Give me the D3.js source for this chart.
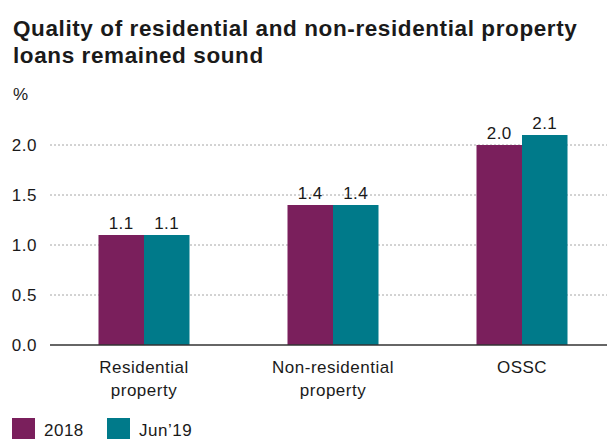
<!DOCTYPE html>
<html lang="en">
<head>
<meta charset="UTF-8">
<title>Quality of residential and non-residential property loans</title>
<script src="https://d3js.org/d3.v7.min.js"></script>
<style>
  body { margin: 0; background: #fff; font-family: "Liberation Sans", Arial, sans-serif; }
  svg text { fill: #1a1a1a; }
  .lbl { font-size: 17px; letter-spacing: 0.5px; }
</style>
</head>
<body>
<div id="chart"></div>
<script>
const categories = [["Residential", "property"], ["Non-residential", "property"], ["OSSC"]];
const seriesNames = ["2018", "Jun\u201919"];
const values2018 = [1.1, 1.4, 2.0];
const valuesJun19 = [1.1, 1.4, 2.1];
const yTicks = [0, 0.5, 1.0, 1.5, 2.0];
const colors = ["#7a1f5c", "#007a8a"];

const width = 607, height = 439;
const left = 50, bottom = 345;

const svg = d3.select("#chart").append("svg")
  .attr("width", width).attr("height", height);

// title
svg.append("text").attr("x", 13).attr("y", 36)
  .attr("font-size", "22.5px").attr("font-weight", "bold")
  .attr("letter-spacing", "0.6px")
  .text("Quality of residential and non-residential property");
svg.append("text").attr("x", 13).attr("y", 63)
  .attr("font-size", "22.5px").attr("font-weight", "bold")
  .attr("letter-spacing", "0.6px")
  .text("loans remained sound");
svg.append("text").attr("class", "lbl").attr("x", 13).attr("y", 100)
  .text("%");

const y = d3.scaleLinear().domain([0, 2]).range([bottom, 145]);
const keys = categories.map((c, i) => i);
const x0 = d3.scaleBand().domain(keys).range([left, 616])
  .paddingInner(0.5185).paddingOuter(0.2566);
const x1 = d3.scaleBand().domain([0, 1]).range([0, x0.bandwidth()]);

// grid lines
svg.append("g").selectAll("line")
  .data(yTicks.filter(d => d > 0))
  .join("line")
  .attr("x1", left).attr("x2", width)
  .attr("y1", d => y(d)).attr("y2", d => y(d))
  .attr("stroke", "#a6a6a6").attr("stroke-width", 1)
  .attr("stroke-dasharray", "2,2");

// y tick labels
svg.append("g").selectAll("text")
  .data(yTicks)
  .join("text")
  .attr("class", "lbl")
  .attr("x", 37).attr("y", d => y(d) + 6)
  .attr("text-anchor", "end")
  .text(d => d3.format(".1f")(d));

// bars
const rows = keys.map(i => [values2018[i], valuesJun19[i]]);
const groups = svg.append("g").selectAll("g")
  .data(rows)
  .join("g")
  .attr("transform", (d, i) => `translate(${x0(i)},0)`);

groups.selectAll("rect")
  .data(d => d)
  .join("rect")
  .attr("x", (d, j) => x1(j))
  .attr("width", x1.bandwidth())
  .attr("y", d => y(d))
  .attr("height", d => y(0) - y(d))
  .attr("fill", (d, j) => colors[j]);

groups.selectAll("text")
  .data(d => d)
  .join("text")
  .attr("class", "lbl")
  .attr("x", (d, j) => x1(j) + x1.bandwidth() / 2)
  .attr("y", d => y(d) - 6)
  .attr("text-anchor", "middle")
  .text(d => d3.format(".1f")(d));

// axis line
svg.append("line")
  .attr("x1", left).attr("x2", width)
  .attr("y1", y(0)).attr("y2", y(0))
  .attr("stroke", "#333").attr("stroke-width", 1.5);

// category labels
const catLabels = svg.append("g").selectAll("text")
  .data(categories)
  .join("text")
  .attr("class", "lbl")
  .attr("text-anchor", "middle")
  .attr("x", (d, i) => x0(i) + x0.bandwidth() / 2)
  .attr("y", 373);
catLabels.selectAll("tspan")
  .data(d => d)
  .join("tspan")
  .attr("x", function() { return d3.select(this.parentNode).attr("x"); })
  .attr("dy", (d, i) => i === 0 ? 0 : 23)
  .text(d => d);

// legend
const legendX = [12, 107];
const legend = svg.append("g").selectAll("g")
  .data(seriesNames)
  .join("g")
  .attr("transform", (d, i) => `translate(${legendX[i]},418)`);
legend.append("rect")
  .attr("width", 23).attr("height", 22)
  .attr("fill", (d, i) => colors[i]);
legend.append("text")
  .attr("class", "lbl")
  .attr("x", 32).attr("y", 18)
  .text(d => d);
</script>
</body>
</html>
